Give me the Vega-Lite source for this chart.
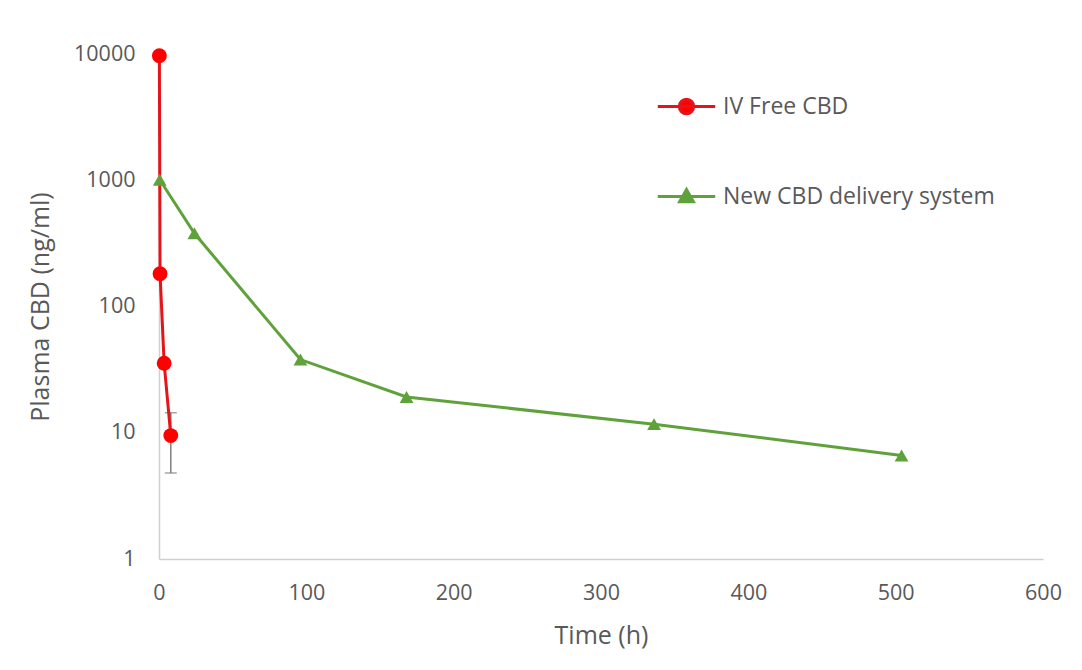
{
  "$schema": "https://vega.github.io/schema/vega-lite/v6.json",
  "width": 884,
  "height": 505,
  "autosize": {"type": "none"},
  "padding": {"left": 159, "top": 54, "right": 39, "bottom": 111},
  "background": "white",
  "config": {
    "view": {"stroke": null},
    "font": "Open Sans",
    "axis": {"labelFont": "Open Sans", "titleFont": "Open Sans", "labelColor": "#595959", "titleColor": "#595959", "labelFontSize": 21.5, "titleFontSize": 25, "titleFontWeight": "normal", "grid": false, "ticks": false, "domainColor": "#d0d0d0", "domainWidth": 1.5, "labelFlush": false}
  },
  "datasets": {
    "pk": [
      {"series": "IV Free CBD", "time": 0.25, "conc": 9700},
      {"series": "IV Free CBD", "time": 0.7, "conc": 182},
      {"series": "IV Free CBD", "time": 3.5, "conc": 35.5},
      {"series": "IV Free CBD", "time": 8, "conc": 9.5},
      {"series": "New CBD delivery system", "time": 0.5, "conc": 1010},
      {"series": "New CBD delivery system", "time": 24, "conc": 380},
      {"series": "New CBD delivery system", "time": 96, "conc": 38},
      {"series": "New CBD delivery system", "time": 168, "conc": 19.2},
      {"series": "New CBD delivery system", "time": 336, "conc": 11.7},
      {"series": "New CBD delivery system", "time": 504, "conc": 6.6}
    ],
    "err": [
      {"series": "IV Free CBD", "time": 8, "lo": 4.8, "hi": 14.4}
    ]
  },
  "layer": [
    {
      "data": {"name": "err"},
      "mark": {"type": "errorbar", "ticks": {"size": 12, "color": "#808080", "thickness": 1.5}, "rule": {"color": "#808080", "strokeWidth": 1.5}},
      "encoding": {
        "x": {"field": "time", "type": "quantitative", "scale": {"domain": [0, 600], "padding": 0}, "title": "Time (h)"},
        "y": {"field": "lo", "type": "quantitative", "scale": {"type": "log", "domain": [1, 10000], "padding": 0}, "title": "Plasma CBD (ng/ml)"},
        "y2": {"field": "hi"}
      }
    },
    {
      "data": {"name": "pk"},
      "mark": {"type": "line", "strokeWidth": 3},
      "encoding": {
        "x": {"field": "time", "type": "quantitative", "scale": {"domain": [0, 600], "padding": 0}, "axis": {"title": "Time (h)", "values": [0, 100, 200, 300, 400, 500, 600], "labelPadding": 23, "titlePadding": 20, "labelFlush": false}},
        "y": {"field": "conc", "type": "quantitative", "scale": {"type": "log", "domain": [1, 10000], "padding": 0}, "axis": {"title": "Plasma CBD (ng/ml)", "values": [1, 10, 100, 1000, 10000], "format": "d", "labelPadding": 24, "titlePadding": 20, "labelFlush": false}},
        "color": {
          "field": "series", "type": "nominal",
          "scale": {"domain": ["IV Free CBD", "New CBD delivery system"], "range": ["#e3151b", "#5fa23b"]},
          "legend": {
            "title": null, "orient": "none", "legendX": 497, "legendY": 22,
            "labelFont": "Open Sans", "labelFontSize": 23, "labelColor": "#595959", "labelLimit": 500,
            "symbolSize": 3300, "symbolStrokeWidth": 3, "rowPadding": 46, "labelOffset": 6,
            "encode": {
              "symbols": {
                "update": {
                  "shape": {"signal": "datum.value === 'IV Free CBD' ? 'M-1,0L1,0M0.25,0A0.25,0.25,0,1,1,-0.25,0A0.25,0.25,0,1,1,0.25,0Z' : 'M-1,0L1,0M0,-0.24L0.24,0.18L-0.24,0.18Z'"},
                  "fill": {"signal": "datum.value === 'IV Free CBD' ? '#ff0000' : '#5fa23b'"},
                  "fillOpacity": {"value": 1}
                }
              }
            }
          }
        }
      }
    },
    {
      "data": {"name": "pk"},
      "mark": {"type": "point", "filled": true, "opacity": 1},
      "encoding": {
        "x": {"field": "time", "type": "quantitative"},
        "y": {"field": "conc", "type": "quantitative"},
        "color": {"field": "series", "type": "nominal", "scale": {"domain": ["IV Free CBD", "New CBD delivery system"], "range": ["#ff0000", "#5fa23b"]}, "legend": null},
        "shape": {"field": "series", "type": "nominal", "scale": {"domain": ["IV Free CBD", "New CBD delivery system"], "range": ["circle", "triangle-up"]}, "legend": null},
        "size": {"field": "series", "type": "nominal", "scale": {"domain": ["IV Free CBD", "New CBD delivery system"], "range": [220, 190]}, "legend": null}
      }
    }
  ],
  "resolve": {"scale": {"color": "independent"}}
}
